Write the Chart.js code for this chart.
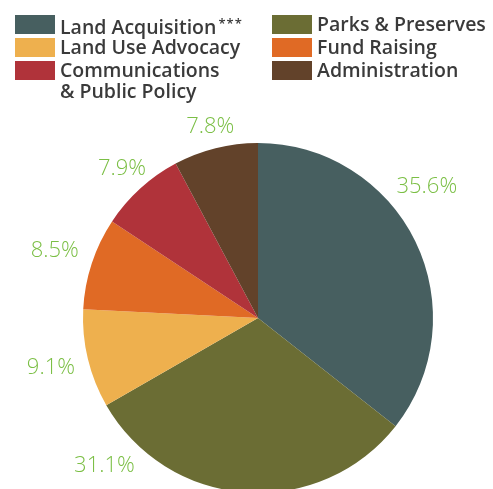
<!DOCTYPE html>
<html>
<head>
<meta charset="utf-8">
<script src="https://cdn.jsdelivr.net/npm/chart.js@4"></script>
<style>
  html, body { margin: 0; padding: 0; background: #fff; overflow: hidden; }
  #wrap { position: relative; width: 493px; height: 520px; }
  #legend { position: absolute; left: 15px; top: 13px; width: 480px; font-family: "Open Sans", sans-serif; font-size: 19.5px; font-weight: 600; color: #3a3a3a; }
  .item { position: absolute; display: flex; align-items: flex-start; line-height: 21px; white-space: nowrap; }
  .sw { width: 40px; height: 19px; margin-right: 5px; margin-top: 2px; flex: none; }
  sup { font-size: 13px; font-weight: 600; vertical-align: 6px; letter-spacing: 1px; margin-left: 2px; }
</style>
</head>
<body>
<div id="wrap">
  <div id="legend"></div>
  <canvas id="pie" width="493" height="520"></canvas>
</div>
<script>
// operating expenses breakdown, clockwise from 12 o'clock
const categories = ['Land Acquisition', 'Parks & Preserves', 'Land Use Advocacy', 'Fund Raising', 'Communications & Public Policy', 'Administration'];
const shares = [35.6, 31.1, 9.1, 8.5, 7.9, 7.8];
const colors = ['#475f60', '#6b6d34', '#eeb04e', '#e06a25', '#b0333a', '#62422a'];

// legend order as printed (two columns)
const legendLeft = [0, 2, 4];
const legendRight = [1, 3, 5];

// nudges for the percent labels (degrees), the print moved two of them
const labelTurn = [-12, 42, 0, 0, 0, 0];
const labelDist = [39, 38, 38, 39, 27, 22];

const legend = document.getElementById('legend');
function addItem(i, x, y) {
    const div = document.createElement('div');
    div.className = 'item';
    div.style.left = x + 'px';
    div.style.top = y + 'px';
    let txt = categories[i];
    if (i === 0) txt += '<sup>***</sup>';
    if (i === 4) txt = 'Communications<br>&amp; Public Policy';
    div.innerHTML = '<span class="sw" style="background:' + colors[i] + '"></span><span>' + txt + '</span>';
    legend.appendChild(div);
}
legendLeft.forEach((i, k) => addItem(i, 0, k * 23));
legendRight.forEach((i, k) => addItem(i, 257, k * 23));

const pctLabels = {
    id: 'pctLabels',
    afterDatasetsDraw(chart) {
        const ctx = chart.ctx;
        const meta = chart.getDatasetMeta(0);
        ctx.save();
        ctx.fillStyle = '#7bbf45';
        ctx.font = '300 22px "Open Sans", sans-serif';
        ctx.textAlign = 'center';
        ctx.textBaseline = 'middle';
        meta.data.forEach((arc, i) => {
            const p = arc.getProps(['x', 'y', 'startAngle', 'endAngle', 'outerRadius'], true);
            const a = (p.startAngle + p.endAngle) / 2 + labelTurn[i] * Math.PI / 180;
            const r = p.outerRadius + labelDist[i];
            ctx.fillText(shares[i].toFixed(1) + '%', p.x + Math.cos(a) * r, p.y + Math.sin(a) * r);
        });
        ctx.restore();
    }
};

new Chart(document.getElementById('pie'), {
    type: 'pie',
    data: {
        labels: categories,
        datasets: [{
            data: shares,
            backgroundColor: colors,
            borderWidth: 0
        }]
    },
    options: {
        responsive: false,
        animation: false,
        layout: { padding: { left: 83, right: 60, top: 143, bottom: 27 } },
        plugins: {
            legend: { display: false },
            tooltip: { enabled: false }
        }
    },
    plugins: [pctLabels]
});
</script>
</body>
</html>
